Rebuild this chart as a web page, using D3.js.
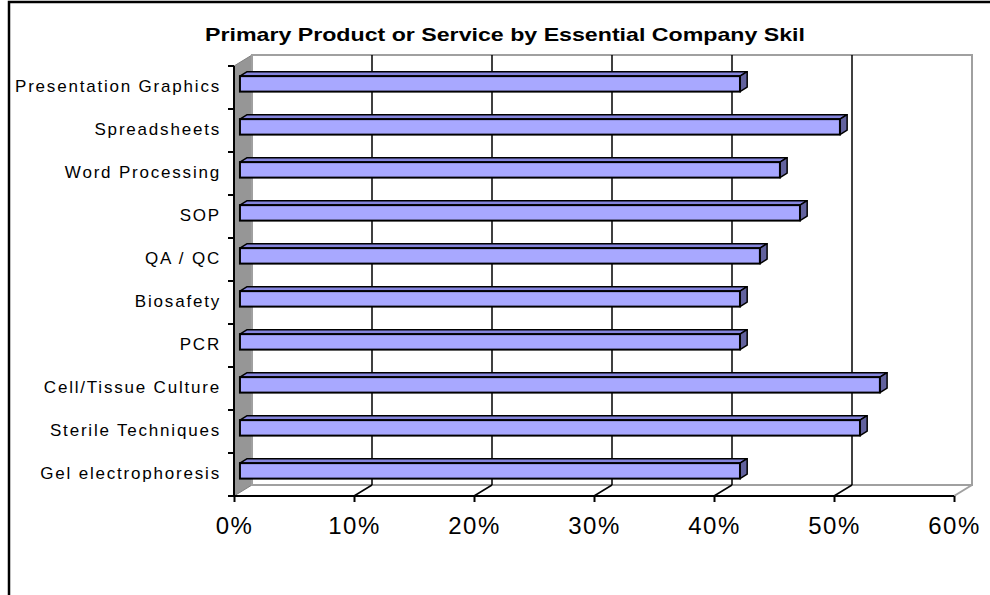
<!DOCTYPE html>
<html>
<head>
<meta charset="utf-8">
<script src="https://cdn.jsdelivr.net/npm/d3@7"></script>
<style>
  body { margin: 0; background: #fff; }
  svg { display: block; }
</style>
</head>
<body>
<div id="chart"></div>
<script>
// data (top to bottom)
let skills = ["Presentation Graphics", "Spreadsheets", "Word Processing", "SOP", "QA / QC",
              "Biosafety", "PCR", "Cell/Tissue Culture", "Sterile Techniques", "Gel electrophoresis"];
let shares = [0.4167, 0.50, 0.45, 0.4667, 0.4333, 0.4167, 0.4167, 0.5333, 0.5167, 0.4167];
let ticks = [0, 0.1, 0.2, 0.3, 0.4, 0.5, 0.6];
let title = "Primary Product or Service by Essential Company Skil";

let width = 990, height = 595;
let DX = 18, DY = -11;          // depth offset of the 3d box
let z1 = 0.33, z2 = 0.73;       // bar front / back depth

let svg = d3.select("#chart").append("svg")
  .attr("width", width).attr("height", height);

// outer chart border
svg.append("rect")
  .attr("x", 9).attr("y", 2).attr("width", 1000).attr("height", 700)
  .attr("fill", "none").attr("stroke", "#000").attr("stroke-width", 2.5);

let x = d3.scaleLinear().domain([0, 0.6]).range([234, 954]);
let y = d3.scaleBand().domain(skills).range([66, 496]);

// projected point helpers
function px(v, z) { return x(v) + z * DX; }
function py(yy, z) { return yy + z * DY; }

let top0 = y.range()[0], bot0 = y.range()[1];
let x0 = x(0), xEnd = x(0.6);

// side wall (gray)
svg.append("polygon")
  .attr("points", [[x0, top0], [x0 + DX, top0 + DY], [x0 + DX, bot0 + DY], [x0, bot0]].join(" "))
  .attr("fill", "#969696").attr("stroke", "#808080").attr("stroke-width", 1);

// back wall
svg.append("rect")
  .attr("x", x0 + DX).attr("y", top0 + DY)
  .attr("width", xEnd - x0).attr("height", bot0 - top0)
  .attr("fill", "#fff").attr("stroke", "#a0a0a0").attr("stroke-width", 2);

// floor right edge
svg.append("line")
  .attr("x1", xEnd).attr("y1", bot0).attr("x2", xEnd + DX).attr("y2", bot0 + DY)
  .attr("stroke", "#a0a0a0").attr("stroke-width", 2);

// gridlines on back wall and floor
let inner = ticks.slice(1, -1);
svg.append("g").selectAll("line.gv").data(inner).enter().append("line")
  .attr("x1", d => px(d, 1)).attr("x2", d => px(d, 1))
  .attr("y1", top0 + DY).attr("y2", bot0 + DY)
  .attr("stroke", "#000").attr("stroke-width", 1.5);
svg.append("g").selectAll("line.gf").data(inner).enter().append("line")
  .attr("x1", d => px(d, 1)).attr("y1", bot0 + DY)
  .attr("x2", d => px(d, 0)).attr("y2", bot0)
  .attr("stroke", "#000").attr("stroke-width", 1.5);

// x axis
let xAxis = svg.append("g")
  .attr("transform", "translate(0," + bot0 + ")")
  .call(d3.axisBottom(x).tickValues(ticks).tickSize(6).tickPadding(15).tickFormat(d3.format(".0%")));
xAxis.select(".domain").attr("stroke", "#000").attr("stroke-width", 2)
  .attr("d", "M" + x0 + ",0H" + xEnd);
xAxis.selectAll(".tick line").attr("stroke", "#000").attr("stroke-width", 2);
xAxis.selectAll("text")
  .attr("font-family", "Liberation Sans, Arial, sans-serif")
  .attr("font-size", 24).attr("letter-spacing", 1.5).attr("fill", "#000");

// y axis
let yAxis = svg.append("g")
  .attr("transform", "translate(" + x0 + ",0)")
  .call(d3.axisLeft(y).tickSize(0).tickPadding(13));
yAxis.select(".domain").attr("stroke", "#000").attr("stroke-width", 2)
  .attr("d", "M0," + top0 + "V" + bot0);
yAxis.selectAll("text")
  .attr("font-family", "Liberation Sans, Arial, sans-serif")
  .attr("font-size", 17).attr("letter-spacing", 1.8).attr("fill", "#000").attr("dy", "0.25em");
// boundary ticks between categories
svg.append("g").selectAll("line").data(d3.range(skills.length + 1)).enter().append("line")
  .attr("x1", x0 - 6).attr("x2", x0)
  .attr("y1", i => top0 + i * y.bandwidth()).attr("y2", i => top0 + i * y.bandwidth())
  .attr("stroke", "#000").attr("stroke-width", 2);

// 3d bars
let barH = y.bandwidth() * 0.36;
let bars = svg.append("g").selectAll("g").data(skills).enter().append("g");
function tp(d, z) { return py(y(d) + y.bandwidth() / 2 - barH / 2, z); }
function bt(d, z) { return py(y(d) + y.bandwidth() / 2 + barH / 2, z); }

bars.append("polygon") // top face
  .attr("points", (d, i) => [[px(0, z1), tp(d, z1)], [px(shares[i], z1), tp(d, z1)],
                             [px(shares[i], z2), tp(d, z2)], [px(0, z2), tp(d, z2)]].join(" "))
  .attr("fill", "#8585dd").attr("stroke", "#000").attr("stroke-width", 1.5).attr("stroke-linejoin", "round");
bars.append("polygon") // side face
  .attr("points", (d, i) => [[px(shares[i], z1), tp(d, z1)], [px(shares[i], z2), tp(d, z2)],
                             [px(shares[i], z2), bt(d, z2)], [px(shares[i], z1), bt(d, z1)]].join(" "))
  .attr("fill", "#62629e").attr("stroke", "#000").attr("stroke-width", 1.5).attr("stroke-linejoin", "round");
bars.append("rect") // front face
  .attr("x", px(0, z1)).attr("y", d => tp(d, z1))
  .attr("width", (d, i) => px(shares[i], z1) - px(0, z1))
  .attr("height", barH)
  .attr("fill", "#a8a8ff").attr("stroke", "#000").attr("stroke-width", 2);

// title
svg.append("text")
  .attr("x", 505).attr("y", 41)
  .attr("text-anchor", "middle")
  .attr("font-family", "Liberation Sans, Arial, sans-serif")
  .attr("font-weight", "bold").attr("font-size", 19)
  .attr("textLength", 600).attr("lengthAdjust", "spacingAndGlyphs")
  .text(title);
</script>
</body>
</html>
